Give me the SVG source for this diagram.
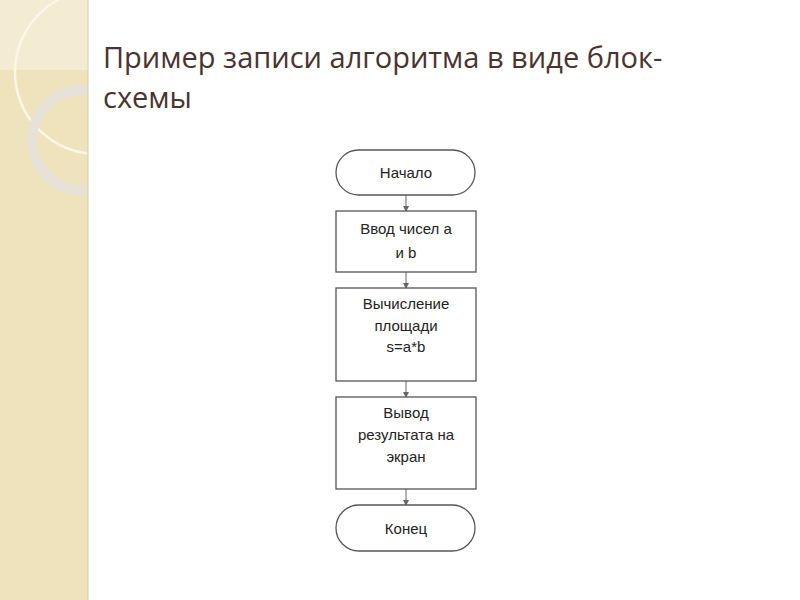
<svg xmlns="http://www.w3.org/2000/svg" width="800" height="600" viewBox="0 0 800 600">
<defs>
<style>
.n{fill:#fff;stroke:#555;stroke-width:1.3}
.t{font-family:"Liberation Sans",Arial,sans-serif;font-size:15px;fill:#222;text-anchor:middle}
.c{stroke:#666;stroke-width:1;fill:none}
</style>
<marker id="a" markerWidth="6" markerHeight="6" refX="5" refY="3" orient="auto"><path d="M0,0L6,3L0,6z" fill="#666"/></marker>
<clipPath id="band"><rect x="0" y="0" width="88" height="600"/></clipPath>
</defs>
<rect width="800" height="600" fill="#fff"/>
<g id="band-deco" clip-path="url(#band)">
<rect x="0" y="0" width="88" height="600" fill="#efe3bd"/>
<rect x="0" y="0" width="88" height="70" fill="#f4ecd2"/>
<circle cx="97" cy="72" r="82" fill="none" stroke="#fbf6e6" stroke-width="2.5"/>
<circle cx="82" cy="140" r="50" fill="none" stroke="#e6e2d8" stroke-width="10"/>
</g>
<line x1="88" y1="0" x2="88" y2="600" stroke="#d8cba6"/>
<text x="103" y="68" font-family="'Open Sans','Noto Sans',sans-serif" font-size="29" fill="#4a3430">Пример записи алгоритма в виде блок-</text>
<text x="103" y="108" font-family="'Open Sans','Noto Sans',sans-serif" font-size="29" fill="#4a3430">схемы</text>
<g id="connectors">
<line class="c" x1="406" y1="195" x2="406" y2="211" marker-end="url(#a)"/>
<line class="c" x1="406" y1="272" x2="406" y2="288" marker-end="url(#a)"/>
<line class="c" x1="406" y1="381" x2="406" y2="397" marker-end="url(#a)"/>
<line class="c" x1="406" y1="489" x2="406" y2="505" marker-end="url(#a)"/>
</g>
<g id="start"><rect class="n" x="336" y="150" width="139" height="45" rx="22.5"/><text class="t" x="406" y="178">Начало</text></g>
<g id="input"><rect class="n" x="336" y="211" width="140" height="61"/><text class="t" x="406" y="234">Ввод чисел a</text><text class="t" x="406" y="258">и b</text></g>
<g id="calc"><rect class="n" x="336" y="288" width="140" height="93"/><text class="t" x="406" y="309" font-size="14">Вычисление</text><text class="t" x="406" y="331" font-size="14">площади</text><text class="t" x="406" y="352" font-size="14">s=a*b</text></g>
<g id="output"><rect class="n" x="336" y="397" width="140" height="92"/><text class="t" x="406" y="418" font-size="14">Вывод</text><text class="t" x="406" y="440" font-size="14">результата на</text><text class="t" x="406" y="462" font-size="14">экран</text></g>
<g id="end"><rect class="n" x="336" y="505" width="139" height="46" rx="23"/><text class="t" x="406" y="534">Конец</text></g>
</svg>
